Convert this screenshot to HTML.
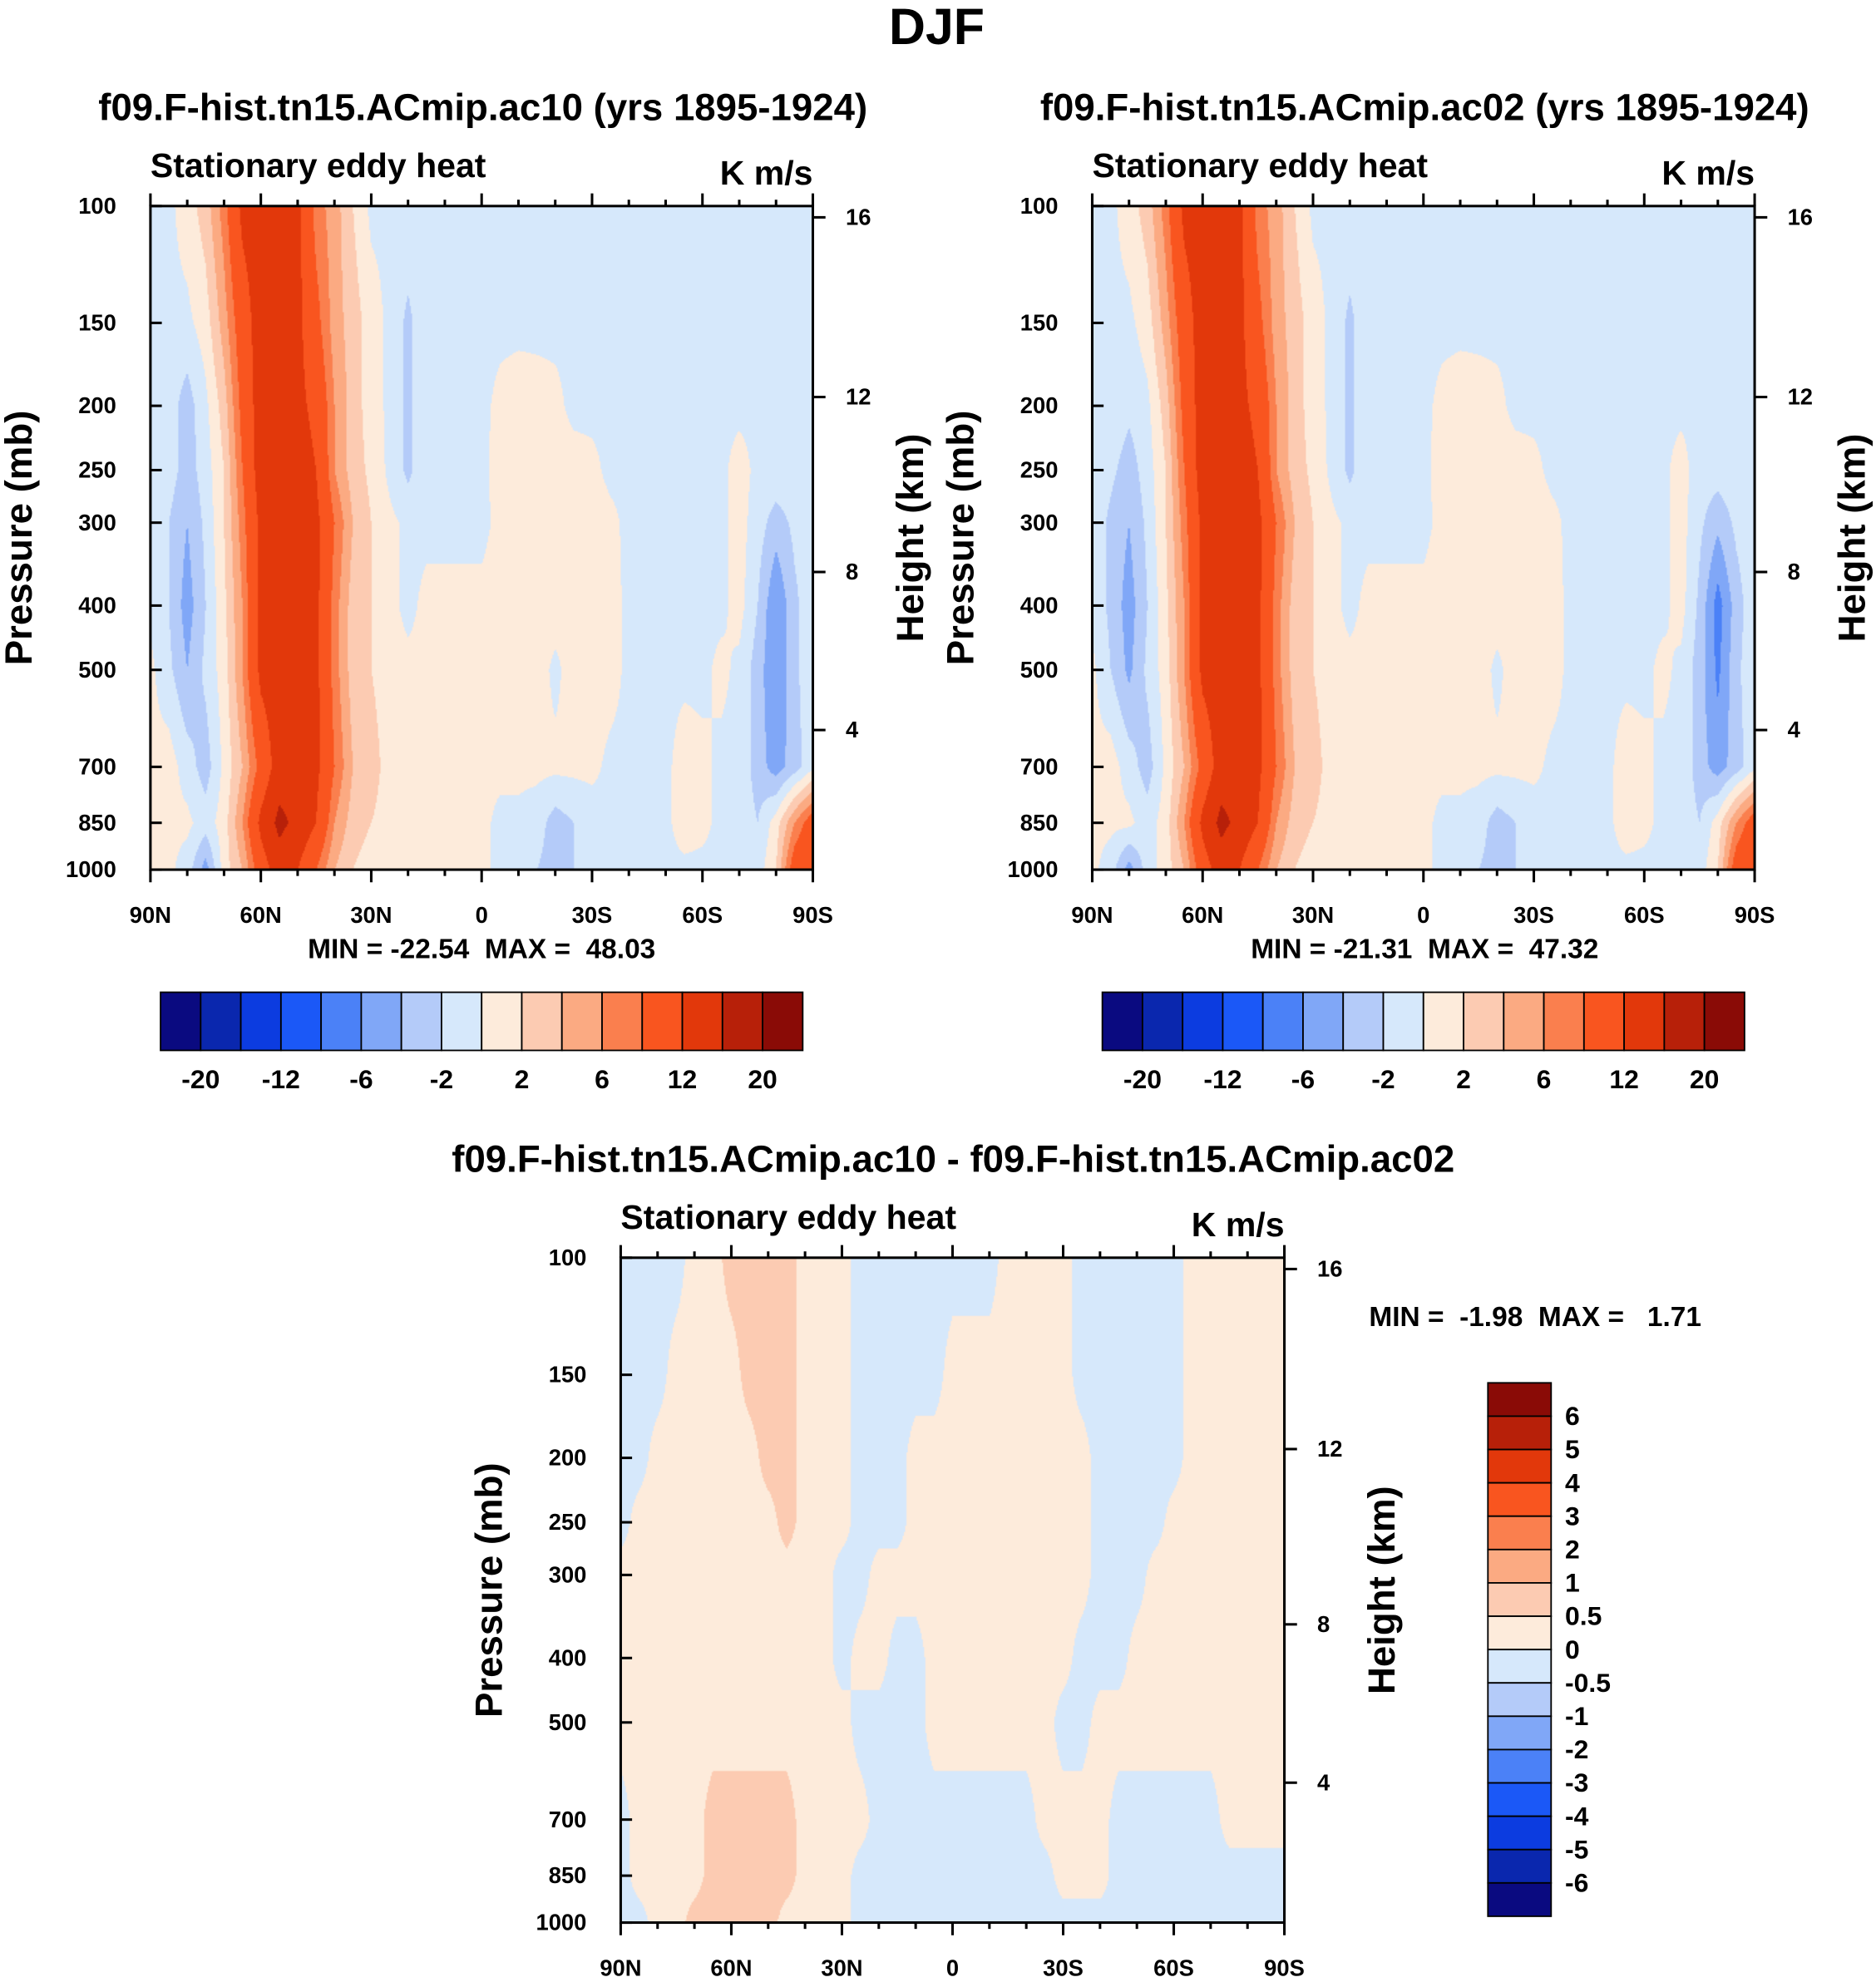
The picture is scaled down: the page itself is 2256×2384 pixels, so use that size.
<!DOCTYPE html>
<html><head><meta charset="utf-8">
<style>
html,body{margin:0;padding:0;background:#fff;}
#wrap{position:relative;width:2256px;height:2384px;overflow:hidden;background:#fff;}
#stage{position:absolute;left:0;top:0;width:1484px;height:1568px;transform:scale(1.52022,1.52041);transform-origin:0 0;}
canvas{position:absolute;}
svg{position:absolute;left:0;top:0;}
text{font-family:"Liberation Sans",Arial,sans-serif;font-weight:bold;fill:#000;white-space:pre;}
</style></head>
<body>
<div id="wrap">
<div id="stage">
<canvas id="c1" style="left:119px;top:163px;width:524px;height:525px" width="524" height="525"></canvas>
<canvas id="c2" style="left:864px;top:163px;width:524px;height:525px" width="524" height="525"></canvas>
<canvas id="c3" style="left:491px;top:995px;width:525px;height:526px" width="525" height="526"></canvas>
<svg id="svg" width="1484" height="1568" viewBox="0 0 1484 1568"></svg>
</div></div>
<script>
// ---- data ----
const lats = [90,85,80,75,70,65,60,55,50,45,40,35,30,25,20,15,10,5,0,-5,-10,-15,-20,-25,-30,-35,-40,-45,-50,-55,-60,-65,-70,-75,-80,-85,-90];
const plevs = [100,150,200,250,300,400,500,700,850,1000];
const pTicks = [100,150,200,250,300,400,500,700,850,1000];
const latTickVals = [90,60,30,0,-30,-60,-90];
const latTickLabels = ["90N","60N","30N","0","30S","60S","90S"];
const heightTickLabels = ["16","12","8","4"];
const heightTickP = [104,194,356,616];

const ac10 = [
[-0.5,-0.5,1,3,7,13,14,14,13,7,5,2,-0.5,-0.5,-0.5,-0.5,-0.5,-0.5,-0.5,-0.5,-0.5,-0.5,-0.5,-0.5,-0.5,-0.5,-0.5,-0.5,-0.5,-0.5,-0.5,-0.5,-0.5,-0.5,-0.5,-0.5,-0.5],
[-0.5,-0.5,-0.5,1,5,10,14,14,13,9,5,3,1,-0.5,-2.5,-0.5,-0.5,-0.5,-0.5,-0.5,-0.5,-0.5,-0.5,-0.5,-0.5,-0.5,-0.5,-0.5,-0.5,-0.5,-0.5,-0.5,-0.5,-0.5,-0.5,-0.5,-0.5],
[-0.5,-1,-3,-0.5,3,9,14,14,13,11,6,3,1,-0.5,-2.5,-0.5,-0.5,-0.5,-0.5,0.5,1,0.8,0.5,-0.5,-0.5,-0.5,-0.5,-0.5,-0.5,-0.5,-0.5,-0.5,-0.5,-0.5,-0.5,-0.5,-0.5],
[-0.5,-1,-3,-1,2,8,14,14,14,12,6,3,1.5,-0.5,-2.5,-0.5,-0.5,-0.5,-0.5,0.8,1,1,1,0.8,0.5,-0.5,-0.5,-0.5,-0.5,-0.5,-0.5,-0.5,0.8,-0.5,-0.5,-0.5,-0.5],
[-0.5,-2,-4,-1.5,2,7,13,14,14,13,8,4,2,0.5,-0.5,-0.5,-0.5,-0.5,-0.5,0.5,1,1,1,1,1,0.5,-0.5,-0.5,-0.5,-0.5,-0.5,-0.5,0.8,-1,-3,-1.5,-0.5],
[-0.5,-2,-5,-2,1.5,6,13,14,14,13,7,3,2,0.5,-0.5,0.5,0.5,0.5,0.5,0.8,1,1,1,0.5,1,0.8,-0.5,-0.5,-0.5,-0.5,-0.5,-0.5,0.8,-2,-6,-2.5,-0.5],
[0.5,-1.5,-4,-1.5,1,6,13,14,14,13,7,3,2,0.8,0.5,0.5,0.5,0.5,0.5,0.8,1,1,-0.5,1,1,0.8,-0.5,-0.5,-0.5,-0.5,-0.5,0.5,-0.5,-3,-6,-2.5,-0.5],
[0.5,1,-1,-3,0.5,4,9,14,14,13,8,4,3,1,1,0.5,0.5,0.5,0.5,0.5,0.5,0.5,0.5,0.5,0.5,-0.5,-0.5,-0.5,-0.5,1,0.5,-0.5,-0.5,-3,-5,-3,-0.5],
[0.5,0.5,0.5,-1,1,6,13,17,15,12,6,3,2,1,0.5,0.5,0.5,0.5,0.5,-0.5,-0.5,-1,-3,-2,-1,-0.5,-0.5,-0.5,-0.5,1,0.5,-0.5,-0.5,-2,1,6,10],
[0.5,0.5,-1,-5,1,4,10,14,12,8,4,2,1,0.5,0.5,0.5,0.5,0.5,0.5,-0.5,-1,-2,-3,-2,-1,-0.5,-0.5,-0.5,-0.5,-0.5,-0.5,-0.5,-0.5,-1,2,10,12]
];
const ac02 = [
[-0.5,-0.5,1,3,7,13,14,14,13,7,5,2,-0.5,-0.5,-0.5,-0.5,-0.5,-0.5,-0.5,-0.5,-0.5,-0.5,-0.5,-0.5,-0.5,-0.5,-0.5,-0.5,-0.5,-0.5,-0.5,-0.5,-0.5,-0.5,-0.5,-0.5,-0.5],
[-0.5,-0.5,-0.5,1,5,10,14,14,13,9,5,3,1,-0.5,-2.5,-0.5,-0.5,-0.5,-0.5,-0.5,-0.5,-0.5,-0.5,-0.5,-0.5,-0.5,-0.5,-0.5,-0.5,-0.5,-0.5,-0.5,-0.5,-0.5,-0.5,-0.5,-0.5],
[-0.5,-0.5,-1.5,-0.5,3,9,14,14,13,11,6,3,1,-0.5,-2.5,-0.5,-0.5,-0.5,-0.5,0.5,1,0.8,0.5,-0.5,-0.5,-0.5,-0.5,-0.5,-0.5,-0.5,-0.5,-0.5,-0.5,-0.5,-0.5,-0.5,-0.5],
[-0.5,-1.5,-3,-1,2,8,14,14,14,12,6,3,1.5,-0.5,-2.5,-0.5,-0.5,-0.5,-0.5,0.8,1,1,1,0.8,0.5,-0.5,-0.5,-0.5,-0.5,-0.5,-0.5,-0.5,0.8,-1,-1,-0.5,-0.5],
[-0.5,-2.5,-4,-1.5,2,7,13,14,14,13,8,4,2,0.5,-0.5,-0.5,-0.5,-0.5,-0.5,0.5,1,1,1,1,1,0.5,-0.5,-0.5,-0.5,-0.5,-0.5,-0.5,0.8,-1.5,-3.5,-1.5,-0.5],
[-0.5,-2.5,-5,-2,1.5,6,13,14,14,13,7,3,2,0.5,-0.5,0.5,0.5,0.5,0.5,0.8,1,1,1,0.5,1,0.8,-0.5,-0.5,-0.5,-0.5,-0.5,-0.5,0.8,-2.5,-7,-3,-0.5],
[0.5,-2,-4.5,-1.5,1,6,13,14,14,13,7,3,2,0.8,0.5,0.5,0.5,0.5,0.5,0.8,1,1,-0.5,1,1,0.8,-0.5,-0.5,-0.5,-0.5,-0.5,0.5,-0.5,-3,-6.5,-2.5,-0.5],
[0.5,1,-1,-3,0.5,4,9,14,14,13,8,4,3,1,1,0.5,0.5,0.5,0.5,0.5,0.5,0.5,0.5,0.5,0.5,-0.5,-0.5,-0.5,-0.5,1,0.5,-0.5,-0.5,-3,-5,-3,-0.5],
[0.5,0.5,0.5,-1,1,6,13,17,15,12,6,3,2,1,0.5,0.5,0.5,0.5,0.5,-0.5,-0.5,-1,-3,-2,-1,-0.5,-0.5,-0.5,-0.5,1,0.5,-0.5,-0.5,-2,1,6,10],
[0.5,-1,-5,-1,1,4,10,14,12,8,4,2,1,0.5,0.5,0.5,0.5,0.5,0.5,-0.5,-1,-2,-3,-2,-1,-0.5,-0.5,-0.5,-0.5,-0.5,-0.5,-0.5,-0.5,-1,2,10,12]
];
const diff = [
[-.3,-.3,-.3,-.3,.3,.3,.7,.7,.7,.7,.3,.3,.3,-.3,-.3,-.3,-.3,-.3,-.3,-.3,-.3,.3,.3,.3,.3,-.3,-.3,-.3,-.3,-.3,-.3,.3,.3,.3,.3,.3,.3],
[-.3,-.3,-.3,.3,.3,.3,.3,.7,.7,.7,.3,.3,.3,-.3,-.3,-.3,-.3,-.3,.3,.3,.3,.3,.3,.3,.3,-.3,-.3,-.3,-.3,-.3,-.3,.3,.3,.3,.3,.3,.3],
[-.3,-.3,.3,.3,.3,.3,.3,.3,.7,.7,.3,.3,.3,-.3,-.3,-.3,.3,.3,.3,.3,.3,.3,.3,.3,.3,.3,-.3,-.3,-.3,-.3,-.3,.3,.3,.3,.3,.3,.3],
[-.3,.3,.3,.3,.3,.3,.3,.3,.3,.7,.3,.3,.3,-.3,-.3,-.3,.3,.3,.3,.3,.3,.3,.3,.3,.3,.3,-.3,-.3,-.3,-.3,.3,.3,.3,.3,.3,.3,.3],
[.3,.3,.3,.3,.3,.3,.3,.3,.3,.3,.3,.3,-.3,-.3,.3,.3,.3,.3,.3,.3,.3,.3,.3,.3,.3,.3,-.3,-.3,-.3,.3,.3,.3,.3,.3,.3,.3,.3],
[.3,.3,.3,.3,.3,.3,.3,.3,.3,.3,.3,.3,-.3,.3,.3,-.3,-.3,.3,.3,.3,.3,.3,.3,.3,.3,-.3,-.3,-.3,.3,.3,.3,.3,.3,.3,.3,.3,.3],
[.3,.3,.3,.3,.3,.3,.3,.3,.3,.3,.3,.3,.3,-.3,-.3,-.3,-.3,.3,.3,.3,.3,.3,.3,.3,-.3,-.3,.3,.3,.3,.3,.3,.3,.3,.3,.3,.3,.3],
[-.3,.3,.3,.3,.3,.7,.7,.7,.7,.7,.3,.3,.3,.3,-.3,-.3,-.3,-.3,-.3,-.3,-.3,-.3,-.3,.3,.3,.3,.3,-.3,-.3,-.3,-.3,-.3,-.3,.3,.3,.3,.3],
[-.3,.3,.3,.3,.3,.7,.7,.7,.7,.7,.3,.3,.3,-.3,-.3,-.3,-.3,-.3,-.3,-.3,-.3,-.3,-.3,-.3,.3,.3,.3,-.3,-.3,-.3,-.3,-.3,-.3,-.3,-.3,-.3,-.3],
[-.3,-.3,.3,.3,.7,.7,.7,.7,.7,.3,.3,.3,.3,-.3,-.3,-.3,-.3,-.3,-.3,-.3,-.3,-.3,-.3,-.3,-.3,-.3,-.3,-.3,-.3,-.3,-.3,-.3,-.3,-.3,-.3,-.3,-.3]
];
const topLevels = [-20,-16,-12,-8,-6,-4,-2,0,2,4,6,8,12,16,20];
const topLabels = ["-20","-12","-6","-2","2","6","12","20"];
const diffLevels = [-6,-5,-4,-3,-2,-1,-0.5,0,0.5,1,2,3,4,5,6];
const diffLabels = ["-6","-5","-4","-3","-2","-1","-0.5","0","0.5","1","2","3","4","5","6"];
const palette = ["#0a0a80","#0a27ae","#0c3ce0","#1b58f7","#4b81f7","#80a7f7","#b4cbf9","#d6e8fb","#fdebdb","#fccbb2","#fbaa82","#fa7f4e","#f9551f","#e2380b","#b72009","#8a0b06"];

// ---- helpers ----
const NS="http://www.w3.org/2000/svg";
const svg=document.getElementById('svg');
function mk(tag,attrs,txt){const e=document.createElementNS(NS,tag);for(const k in attrs)e.setAttribute(k,attrs[k]);if(txt!==undefined)e.textContent=txt;svg.appendChild(e);return e;}
function hex(c){return [parseInt(c.substr(1,2),16),parseInt(c.substr(3,2),16),parseInt(c.substr(5,2),16)];}
const palRGB=palette.map(hex);

function drawField(id,data,levels,W,H){
  const cv=document.getElementById(id),ctx=cv.getContext('2d');
  const img=ctx.createImageData(W,H);
  const lp=plevs.map(p=>Math.log10(p));
  for(let y=0;y<H;y++){
    const L=2+ (y+0.5)/H;
    let j=0;while(j<lp.length-2&&L>lp[j+1])j++;
    let fy=(L-lp[j])/(lp[j+1]-lp[j]);fy=Math.max(0,Math.min(1,fy));
    for(let x=0;x<W;x++){
      const lat=90-(x+0.5)/W*180;
      let fi=(90-lat)/5;let i=Math.min(35,Math.floor(fi));let fx=fi-i;
      const v=(data[j][i]*(1-fx)+data[j][i+1]*fx)*(1-fy)+(data[j+1][i]*(1-fx)+data[j+1][i+1]*fx)*fy;
      let k=0;while(k<levels.length&&v>=levels[k])k++;
      const c=palRGB[k],o=(y*W+x)*4;
      img.data[o]=c[0];img.data[o+1]=c[1];img.data[o+2]=c[2];img.data[o+3]=255;
    }
  }
  ctx.putImageData(img,0,0);
}

function panel(px,py,W,H,name){
  const yOf=p=>py+(Math.log10(p)-2)*H;
  const xOf=lat=>px+(90-lat)/180*W;
  const g='#000';
  mk('rect',{x:px,y:py,width:W,height:H,fill:'none',stroke:g,'stroke-width':2,});
  pTicks.forEach(p=>{
    const y=yOf(p);
    mk('line',{x1:px,y1:y,x2:px+9,y2:y,stroke:g,'stroke-width':2,});
    mk('text',{x:px-27,y:y+6,'font-size':18,'text-anchor':'end',},String(p));
  });
  heightTickP.forEach((p,i)=>{
    const y=yOf(p);
    mk('line',{x1:px+W,y1:y,x2:px+W+10,y2:y,stroke:g,'stroke-width':2,});
    mk('text',{x:px+W+26,y:y+6,'font-size':18,},heightTickLabels[i]);
  });
  for(let lat=90;lat>=-90;lat-=10){
    const x=xOf(lat),maj=lat%30===0;
    mk('line',{x1:x,y1:py,x2:x,y2:py-(maj?10:5),stroke:g,'stroke-width':2,});
    mk('line',{x1:x,y1:py+H,x2:x,y2:py+H+(maj?10:5),stroke:g,'stroke-width':2,});
  }
  latTickVals.forEach((lat,i)=>{
    mk('text',{x:xOf(lat),y:py+H+42,'font-size':18,'text-anchor':'middle',},latTickLabels[i]);
  });
  mk('text',{x:px,y:py-23,'font-size':27,},'Stationary eddy heat');
  mk('text',{x:px+W,y:py-17,'font-size':27,'text-anchor':'end',},'K m/s');
  const cy=py+H*0.5;
  mk('text',{x:0,y:0,'font-size':30,'text-anchor':'middle',transform:`translate(${px-94},${cy}) rotate(-90)`,},'Pressure (mb)');
  mk('text',{x:0,y:0,'font-size':30,'text-anchor':'middle',transform:`translate(${px+W+87},${cy}) rotate(-90)`,},'Height (km)');
}

function hbar(x0,y0,w,h,name){
  const n=palette.length,bw=w/n;
  palette.forEach((c,i)=>{
    mk('rect',{x:x0+i*bw,y:y0,width:bw,height:h,fill:c,stroke:'#000','stroke-width':1.2,});
  });
  topLabels.forEach((t,i)=>{
    mk('text',{x:x0+(1+2*i)*bw,y:y0+h+30,'font-size':21,'text-anchor':'middle',},t);
  });
}

// ---- draw ----
drawField('c1',ac10,topLevels,524,525);
drawField('c2',ac02,topLevels,524,525);
drawField('c3',diff,diffLevels,525,526);

mk('text',{x:741,y:35,'font-size':40,'text-anchor':'middle',},'DJF');
mk('text',{x:382,y:95,'font-size':30,'text-anchor':'middle',},'f09.F-hist.tn15.ACmip.ac10 (yrs 1895-1924)');
mk('text',{x:1127,y:95,'font-size':30,'text-anchor':'middle',},'f09.F-hist.tn15.ACmip.ac02 (yrs 1895-1924)');
panel(119,163,524,525,'left-panel');
panel(864,163,524,525,'right-panel');
mk('text',{x:381,y:758,'font-size':22,'text-anchor':'middle',},'MIN = -22.54  MAX =  48.03');
mk('text',{x:1127,y:758,'font-size':22,'text-anchor':'middle',},'MIN = -21.31  MAX =  47.32');
hbar(127,785,508,46,'left-colorbar');
hbar(872,785,508,46,'right-colorbar');

mk('text',{x:754,y:927,'font-size':30,'text-anchor':'middle',},'f09.F-hist.tn15.ACmip.ac10 - f09.F-hist.tn15.ACmip.ac02');
panel(491,995,525,526,'diff-panel');
mk('text',{x:1083,y:1049,'font-size':22,},'MIN =  -1.98  MAX =   1.71');
(function(){
  const x0=1177,y0=1094,w=50,h=422,n=palette.length,bh=h/n;
  for(let i=0;i<n;i++){
    mk('rect',{x:x0,y:y0+i*bh,width:w,height:bh,fill:palette[n-1-i],stroke:'#000','stroke-width':1.2,});
  }
  for(let i=0;i<diffLabels.length;i++){
    mk('text',{x:x0+w+11,y:y0+(i+1)*bh+7,'font-size':21,},diffLabels[diffLabels.length-1-i]);
  }
})();
</script>
</body></html>
